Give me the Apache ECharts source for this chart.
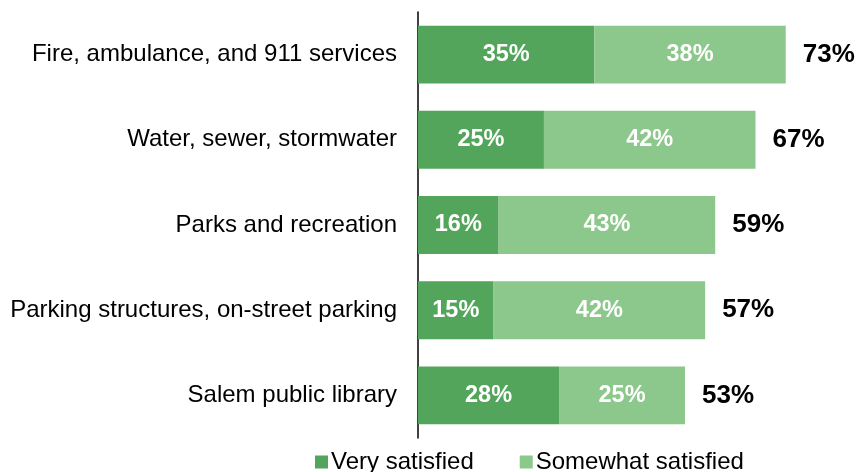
<!DOCTYPE html>
<html><head><meta charset="utf-8">
<script src="https://cdn.jsdelivr.net/npm/echarts@6/dist/echarts.min.js"></script>
<style>html,body{margin:0;padding:0;background:#fff}#c{width:856px;height:472px}</style>
</head><body><div id="c"></div>
<script>
var categories = ["Fire, ambulance, and 911 services","Water, sewer, stormwater","Parks and recreation","Parking structures, on-street parking","Salem public library"];
var verySatisfied = [35,25,16,15,28];
var somewhatSatisfied = [38,42,43,42,25];
var totals = [73,67,59,57,53];
var seriesNames = ["Very satisfied","Somewhat satisfied"];

var font = "'Liberation Sans', Arial, sans-serif";
var chart = echarts.init(document.getElementById('c'), null, {renderer:'canvas'});
var inLabel = {show:true, position:'inside', color:'#fff', fontWeight:'bold', fontSize:23.5, fontFamily:font, formatter:function(p){return p.value+'%';}};
chart.setOption({
  animation:false,
  grid:{left:418, top:12, width:403, height:426, containLabel:false},
  xAxis:{type:'value', min:0, max:80, show:false},
  yAxis:{type:'category', inverse:true, data:categories,
    axisLine:{show:true, lineStyle:{color:'#000', width:1.5}},
    axisTick:{show:false},
    axisLabel:{color:'#000', fontSize:24, fontFamily:font, margin:21}},
  legend:{left:315, top:450, itemWidth:13, itemHeight:13, itemGap:46, icon:'rect', padding:0,
    textStyle:{fontSize:24, fontFamily:font, color:'#000', padding:[0,0,0,-2]},
    data:seriesNames},
  series:[
    {name:seriesNames[0], type:'bar', stack:'s', barWidth:'68%', data:verySatisfied,
     itemStyle:{color:'#53A55B'}, label:inLabel},
    {name:seriesNames[1], type:'bar', stack:'s', data:somewhatSatisfied,
     itemStyle:{color:'#8CC78B'}, label:inLabel},
    {name:'Total', type:'scatter', symbolSize:0, silent:true,
     itemStyle:{opacity:1},
     data:totals.map(function(v,i){return [v, categories[i]];}),
     label:{show:true, position:'right', distance:17, color:'#000', opacity:1, fontWeight:'bold', fontSize:26, fontFamily:font,
       formatter:function(p){return p.value[0]+'%';}}}
  ]
});
</script></body></html>
